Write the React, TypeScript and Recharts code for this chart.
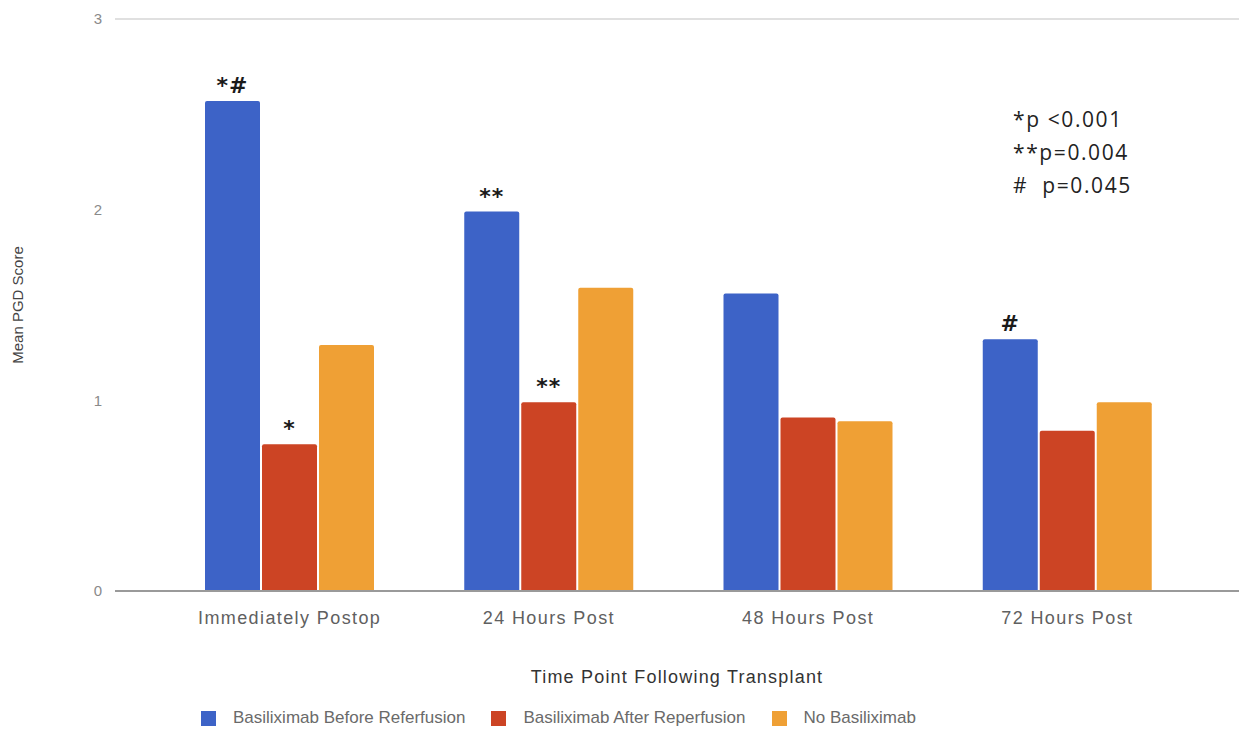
import React from "react";
import { Bar, BarChart, LabelList, Legend, ReferenceLine, XAxis, YAxis } from "recharts";

const categories = ["Immediately Postop", "24 Hours Post", "48 Hours Post", "72 Hours Post"];
const beforeReperfusion = [2.57, 1.99, 1.56, 1.32];
const afterReperfusion = [0.77, 0.99, 0.91, 0.84];
const noBasiliximab = [1.29, 1.59, 0.89, 0.99];
const beforeMarks = ["*#", "**", "", "#"];
const afterMarks = ["*", "**", "", ""];
const seriesNames = ["Basiliximab Before Referfusion", "Basiliximab After Reperfusion", "No Basiliximab"];
const pValueNotes = ["*p <0.001", "**p=0.004", "#  p=0.045"];
const yTicks = [0, 1, 2, 3];

const data = categories.map((label, i) => ({
  label,
  before: beforeReperfusion[i],
  after: afterReperfusion[i],
  none: noBasiliximab[i],
  beforeMark: beforeMarks[i],
  afterMark: afterMarks[i]
}));

const font = "'Liberation Sans', Arial, sans-serif";

function markLabel(marks: string[]) {
  return (props: any) => {
    const { x, y, width, index } = props;
    const text = marks[index];
    if (!text) return null;
    return (
      <text
        x={Number(x) + Number(width) / 2}
        y={Number(y) - 8}
        textAnchor="middle"
        fontFamily="'DejaVu Sans', sans-serif"
        fontWeight="bold"
        fontSize={22}
        letterSpacing={1}
        fill="#1a1a1a"
      >
        {text}
      </text>
    );
  };
}

function renderLegend(props: any) {
  const payload = [...(props.payload || [])].sort(
    (a: any, b: any) => seriesNames.indexOf(a.value) - seriesNames.indexOf(b.value)
  );
  return (
    <div style={{ display: "flex", fontFamily: font, fontSize: 17, color: "#6a6a6a" }}>
      {payload.map((entry: any) => (
        <div key={entry.value} style={{ display: "flex", alignItems: "center", marginRight: 26 }}>
          <span style={{ width: 15, height: 15, background: entry.color, display: "inline-block", marginRight: 17 }} />
          <span>{entry.value}</span>
        </div>
      ))}
    </div>
  );
}

export default function App() {
  return (
    <div style={{ position: "absolute", left: 0, top: 0, width: 1239, height: 738, background: "#fff" }}>
      <BarChart
        width={1239}
        height={738}
        data={data}
        margin={{ top: 19, right: 0, left: 15, bottom: 117 }}
        barSize={55}
        barGap={2}
      >
        <ReferenceLine y={3} stroke="#d6d6d6" strokeWidth={1.5} />
        <XAxis
          dataKey="label"
          tickLine={false}
          axisLine={{ stroke: "#9a9a9a", strokeWidth: 2 }}
          padding={{ left: 45, right: 42 }}
          tick={{ fill: "#606060", fontSize: 18, fontFamily: font, letterSpacing: 1.4 }}
          tickMargin={14}
          label={{
            value: "Time Point Following Transplant",
            position: "bottom",
            offset: 49,
            fill: "#333",
            fontSize: 18,
            fontFamily: font,
            letterSpacing: 1.2
          }}
        />
        <YAxis
          width={100}
          domain={[0, 3]}
          ticks={yTicks}
          tickLine={false}
          axisLine={false}
          tickMargin={7}
          tick={{ fill: "#8a8a8a", fontSize: 15, fontFamily: font }}
          label={{
            value: "Mean PGD Score",
            angle: -90,
            position: "insideLeft",
            offset: 3,
            fill: "#444",
            fontSize: 15,
            fontFamily: font,
            style: { textAnchor: "middle" }
          }}
        />
        <Legend
          verticalAlign="middle"
          align="center"
          content={renderLegend}
          wrapperStyle={{ top: 708, left: 201, width: 1000, height: 20 }}
        />
        <Bar dataKey="before" name={seriesNames[0]} fill="#3d63c7" radius={[2, 2, 0, 0]} isAnimationActive={false}>
          <LabelList dataKey="beforeMark" content={markLabel(beforeMarks)} />
        </Bar>
        <Bar dataKey="after" name={seriesNames[1]} fill="#cc4424" radius={[2, 2, 0, 0]} isAnimationActive={false}>
          <LabelList dataKey="afterMark" content={markLabel(afterMarks)} />
        </Bar>
        <Bar dataKey="none" name={seriesNames[2]} fill="#efa035" radius={[2, 2, 0, 0]} isAnimationActive={false} />
      </BarChart>
      <div
        style={{
          position: "absolute",
          left: 1013,
          top: 103,
          fontFamily: "'Open Sans', sans-serif",
          fontSize: 21,
          letterSpacing: 1.6,
          lineHeight: "33px",
          color: "#222",
          whiteSpace: "pre"
        }}
      >
        {pValueNotes.map((note) => (
          <div key={note}>{note}</div>
        ))}
      </div>
    </div>
  );
}
